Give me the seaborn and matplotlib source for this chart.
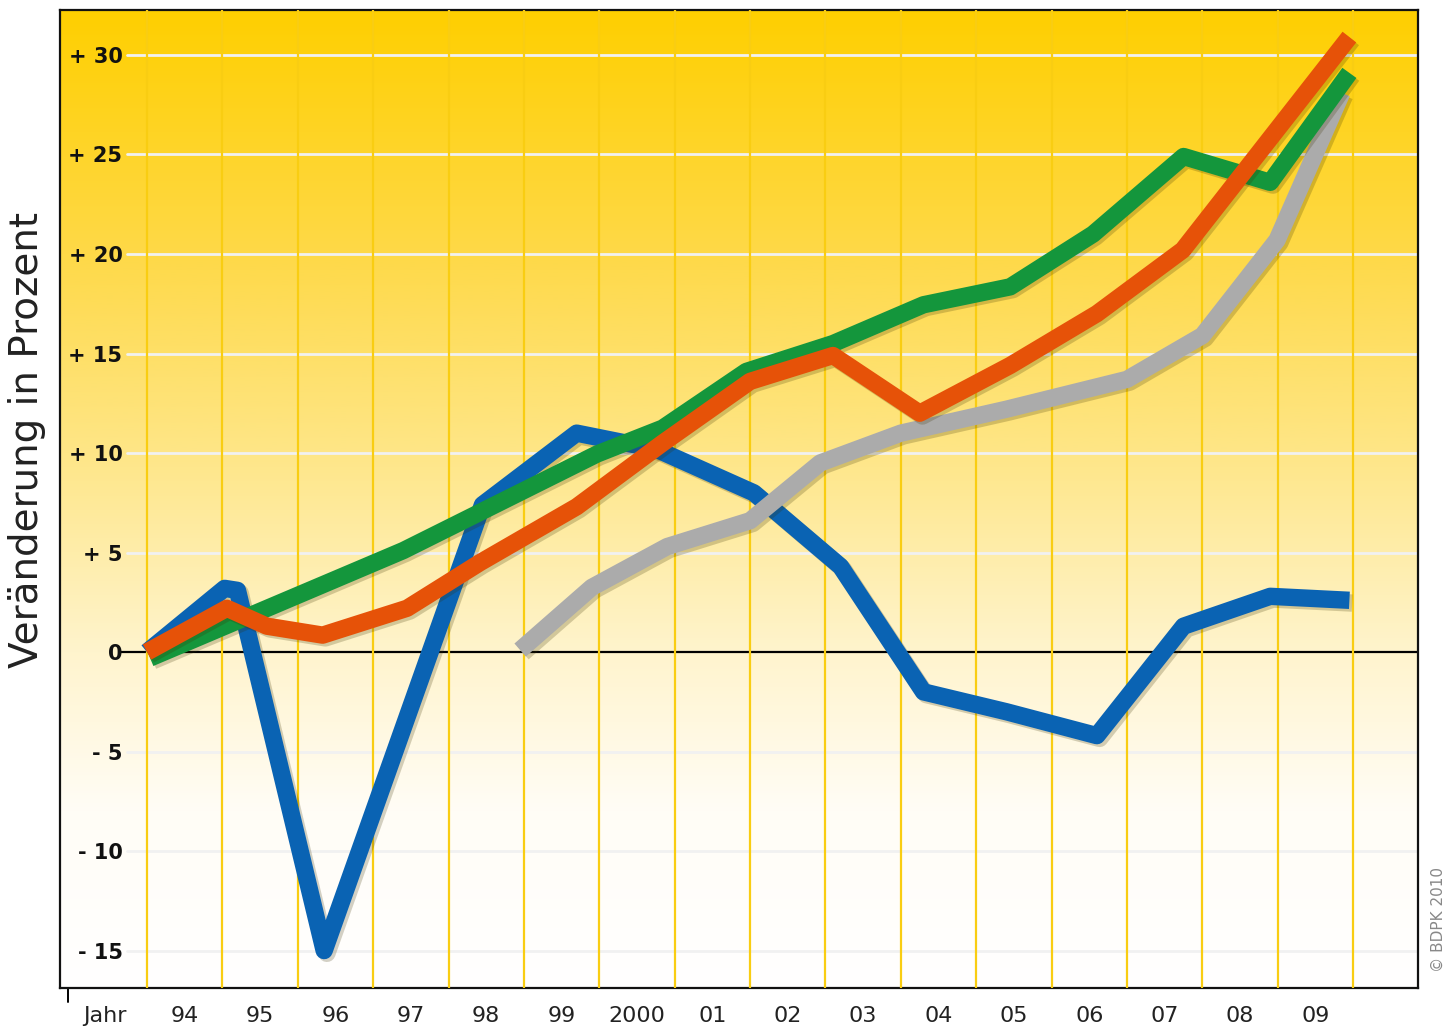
import numpy as np
import pandas as pd
import seaborn as sns
import matplotlib.pyplot as plt
import matplotlib.patheffects as pe

# positions are in "grid column" units: 0 = first yellow line (start of 1994)
blue_x = [0.0, 1.03, 1.2, 2.35, 4.45, 5.7, 6.75, 8.05, 9.2, 10.3, 11.4, 12.6, 13.75, 14.9, 15.95]
blue_y = [0.0, 3.2, 3.1, -15.0, 7.4, 11.0, 10.2, 8.0, 4.3, -2.0, -3.0, -4.2, 1.3, 2.8, 2.6]

orange_x = [0.0, 1.06, 1.59, 2.33, 3.45, 4.42, 5.7, 6.84, 8.0, 9.1, 10.25, 11.45, 12.6, 13.74, 15.95]
orange_y = [0.0, 2.2, 1.3, 0.85, 2.2, 4.5, 7.3, 10.5, 13.6, 14.9, 12.0, 14.4, 17.0, 20.2, 30.9]

green_x = [0.04, 3.4, 5.97, 6.84, 7.95, 9.1, 10.3, 11.45, 12.55, 13.75, 14.9, 15.95]
green_y = [-0.3, 5.1, 9.95, 11.25, 14.1, 15.5, 17.45, 18.35, 21.0, 24.9, 23.6, 29.1]

gray_x = [4.95, 5.9, 6.9, 8.0, 8.93, 10.0, 11.4, 13.0, 14.0, 14.99, 15.85]
gray_y = [0.1, 3.25, 5.3, 6.6, 9.5, 11.0, 12.2, 13.7, 15.9, 20.7, 28.1]

year_labels = ['94', '95', '96', '97', '98', '99', '2000', '01', '02', '03',
               '04', '05', '06', '07', '08', '09']
y_ticks = [-15, -10, -5, 0, 5, 10, 15, 20, 25, 30]
y_ticklabels = ['- 15', '- 10', '- 5', '0', '+ 5', '+ 10', '+ 15', '+ 20', '+ 25', '+ 30']

series = [
    ('blue', blue_x, blue_y, '#0a63b3', 3),
    ('gray', gray_x, gray_y, '#ababab', 4),
    ('green', green_x, green_y, '#14963c', 5),
    ('orange', orange_x, orange_y, '#e65208', 6),
]

sns.set_style('white')
plt.rcParams['font.family'] = ['DejaVu Sans']

fig = plt.figure(figsize=(14.46, 10.27), dpi=100)
ax = fig.add_axes([60 / 1446, 1 - 988 / 1027, 1358 / 1446, 978 / 1027])

xlo, xhi = -1.154, 16.86
ylo, yhi = -16.88, 32.26

# yellow to white background gradient
yy = np.linspace(ylo, yhi, 500)
stops_y = [-16.9, -8, 0, 10, 20, 32.3]
stops_rgb = np.array([(255, 255, 255), (255, 253, 246), (255, 244, 205),
                      (254, 230, 135), (254, 217, 72), (255, 207, 0)]) / 255
grad = np.stack([np.interp(yy, stops_y, stops_rgb[:, k]) for k in range(3)], axis=-1)
ax.imshow(grad[:, None, :], extent=[xlo, xhi, ylo, yhi], origin='lower',
          aspect='auto', zorder=0, interpolation='bilinear')

# horizontal white grid lines and the zero line
for t in y_ticks:
    if t == 0:
        continue
    ax.axhline(t, xmin=0.049, xmax=1, color='#f1f1f1', lw=2.0, zorder=1)
ax.axhline(0, xmin=0.044, xmax=1, color='black', lw=1.6, zorder=2)

# vertical yellow grid lines (major ticks extend below the frame)
ax.set_xticks(np.arange(0, 17))
ax.set_xticklabels([])
ax.grid(axis='x', color='#f9cd12', lw=1.6, zorder=1)
ax.set_axisbelow(False)
ax.tick_params(axis='x', which='major', length=9, width=1.6, color='#f9cd12',
               direction='out')
ax.set_xticks([-0.56] + list(np.arange(16) + 0.5), minor=True)
ax.set_xticklabels(['Jahr'] + year_labels, minor=True)
ax.tick_params(axis='x', which='minor', length=0, pad=13, labelsize=16,
               labelcolor='#222222')

ax.set_yticks(y_ticks)
ax.set_yticklabels(y_ticklabels, fontweight='bold')
ax.tick_params(axis='y', length=0, pad=-45, labelsize=15, labelcolor='#111111')
for lab in ax.get_yticklabels():
    lab.set_zorder(3)

for name, xs, ys, col, z in series:
    df = pd.DataFrame({'x': xs, 'y': ys})
    sns.lineplot(data=df, x='x', y='y', sort=False, estimator=None, color=col,
                 lw=12.5, ax=ax, zorder=z)
    line = ax.lines[-1]
    line.set_solid_capstyle('butt')
    line.set_solid_joinstyle('round')
    line.set_path_effects([
        pe.SimpleLineShadow(offset=(2, -2), shadow_color='#3a3000', alpha=0.22),
        pe.Normal()])

ax.set_xlim(xlo, xhi)
ax.set_ylim(ylo, yhi)
ax.set_xlabel('')
ax.set_ylabel('')
for s in ax.spines.values():
    s.set_visible(True)
    s.set_color('#111111')
    s.set_linewidth(1.6)

# small black tick at the lower left
ax.plot([-1.05, -1.05], [0, -0.014], transform=ax.get_xaxis_transform(),
        clip_on=False, color='black', lw=1.4)

fig.text(27 / 1446, 1 - 440 / 1027, 'Veränderung in Prozent', rotation=90,
         ha='center', va='center', fontsize=28, color='#222222')
fig.text(1438 / 1446, 1 - 920 / 1027, '© BDPK 2010', rotation=90,
         ha='center', va='center', fontsize=11, color='#888888')

fig.savefig('out.png', dpi=100)
